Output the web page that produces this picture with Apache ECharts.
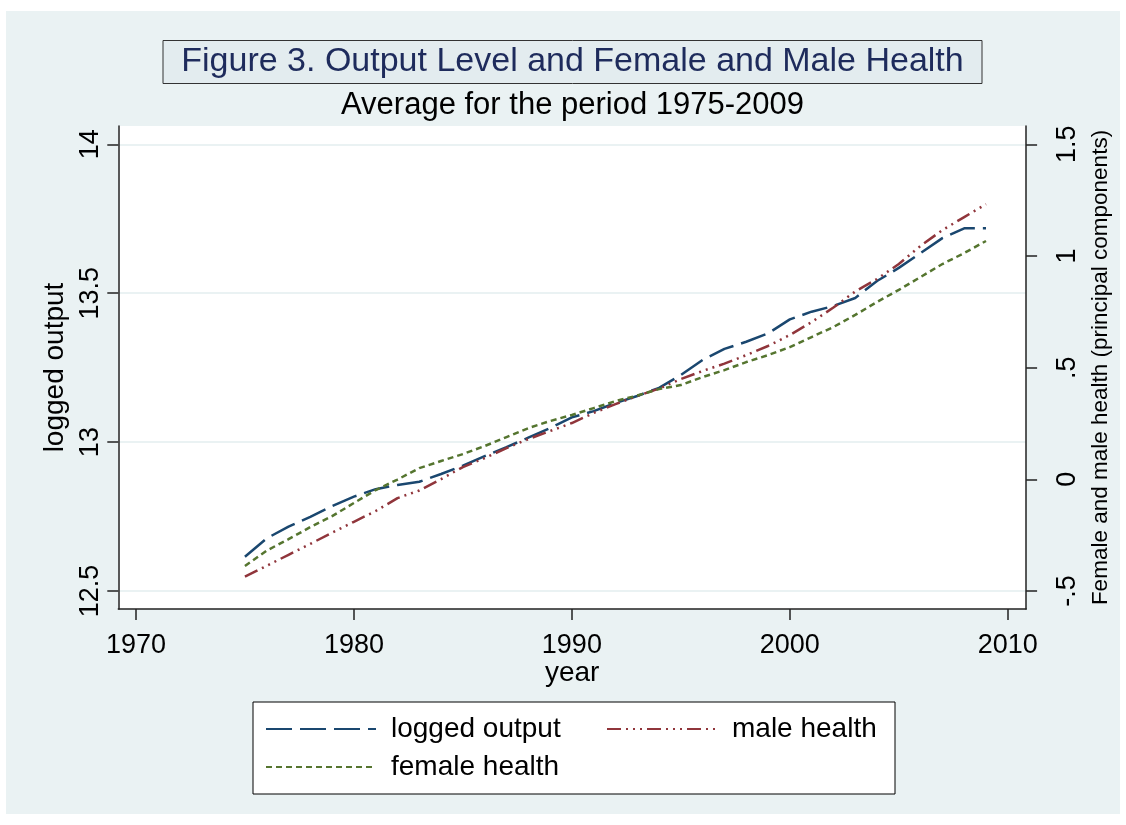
<!DOCTYPE html>
<html>
<head>
<meta charset="utf-8">
<script src="https://cdn.jsdelivr.net/npm/echarts@6/dist/echarts.min.js"></script>
<style>
html, body { margin: 0; padding: 0; background: #ffffff; width: 1126px; height: 825px; overflow: hidden; }
#chart { position: absolute; left: 6px; top: 11px; width: 1114px; height: 803px; }
</style>
</head>
<body>
<div id="chart"></div>
<script>
const years = [1975,1976,1977,1978,1979,1980,1981,1982,1983,1984,1985,1986,1987,1988,1989,1990,1991,1992,1993,1994,1995,1996,1997,1998,1999,2000,2001,2002,2003,2004,2005,2006,2007,2008,2009];
const loggedOutput = [12.615,12.677,12.716,12.749,12.785,12.817,12.842,12.856,12.867,12.893,12.921,12.953,12.983,13.015,13.047,13.083,13.104,13.131,13.155,13.182,13.225,13.276,13.313,13.337,13.365,13.412,13.438,13.457,13.484,13.541,13.585,13.635,13.685,13.718,13.718];
const maleHealth = [-0.436,-0.387,-0.338,-0.289,-0.239,-0.190,-0.142,-0.084,-0.050,0.001,0.055,0.095,0.140,0.180,0.216,0.252,0.297,0.337,0.373,0.406,0.449,0.485,0.518,0.556,0.597,0.646,0.704,0.769,0.841,0.897,0.964,1.045,1.116,1.174,1.232];
const femaleHealth = [-0.388,-0.319,-0.268,-0.214,-0.165,-0.106,-0.048,-0.001,0.050,0.082,0.113,0.149,0.189,0.229,0.261,0.288,0.319,0.350,0.375,0.404,0.422,0.458,0.489,0.525,0.556,0.592,0.637,0.682,0.736,0.794,0.848,0.906,0.964,1.013,1.067];
const xTicks = [1970,1980,1990,2000,2010];
const leftTicks = [12.5,13,13.5,14];
const rightTicks = [-0.5,0,0.5,1,1.5];
const rightTickLabels = ['-.5','0','.5','1','1.5'];

const FONT = '"Liberation Sans", Arial, sans-serif';
const AXIS_COLOR = '#222222';

function pairs(vals) { return years.map((y, i) => [y, vals[i]]); }

const chart = echarts.init(document.getElementById('chart'), null, { renderer: 'canvas' });
chart.setOption({
  animation: false,
  backgroundColor: '#EAF2F3',
  textStyle: { fontFamily: FONT },
  title: [
    {
      text: 'Figure 3. Output Level and Female and Male Health',
      left: 547.5, top: 29, textAlign: 'center',
      padding: [1, 19, 1, 19],
      backgroundColor: '#E3ECEF', borderColor: '#333333', borderWidth: 1,
      textStyle: { fontFamily: FONT, fontSize: 34, fontWeight: 'normal', color: '#1E2B5C', lineHeight: 42 }
    },
    {
      text: 'Average for the period 1975-2009',
      left: 566.5, top: 78, textAlign: 'center', padding: 0,
      textStyle: { fontFamily: FONT, fontSize: 31, fontWeight: 'normal', color: '#000000', lineHeight: 32 }
    }
  ],
  grid: {
    left: 112.3, top: 115, right: 90, bottom: 205,
    show: true, backgroundColor: '#ffffff', borderWidth: 0
  },
  legend: {
    left: 247, top: 691, width: 640,
    orient: 'horizontal',
    padding: [8, 13, 8, 12],
    itemGap: 0, itemWidth: 110, itemHeight: 14,
    itemStyle: { opacity: 0 },
    backgroundColor: '#ffffff', borderColor: '#000000', borderWidth: 1,
    textStyle: { fontFamily: FONT, fontSize: 28, color: '#000000', lineHeight: 38, height: 38, padding: [0, 0, 0, 10] },
    data: [
      { name: 'logged output', textStyle: { width: 215 } },
      { name: 'male health', textStyle: { width: 150 } },
      { name: 'female health', textStyle: { width: 215 } }
    ]
  },
  xAxis: {
    type: 'value', min: 1969.19, max: 2010.84,
    name: 'year', nameLocation: 'middle', nameGap: 50, nameMoveOverlap: false,
    nameTextStyle: { fontFamily: FONT, fontSize: 28, color: '#000' },
    axisLine: { show: true, onZero: false, lineStyle: { color: AXIS_COLOR, width: 1.5 } },
    axisTick: { show: true, length: 11, customValues: xTicks, lineStyle: { color: AXIS_COLOR, width: 1.5 } },
    axisLabel: { customValues: xTicks, margin: 23, fontFamily: FONT, fontSize: 27, color: '#000', formatter: v => String(v) },
    splitLine: { show: false }
  },
  yAxis: [
    {
      type: 'value', position: 'left', min: 12.4396, max: 14.0615,
      name: 'logged output', nameLocation: 'middle', nameRotate: 90, nameGap: 45,
      nameTextStyle: { fontFamily: FONT, fontSize: 28, color: '#000' },
      axisLine: { show: true, onZero: false, lineStyle: { color: AXIS_COLOR, width: 1.5 } },
      axisTick: { show: true, length: 11, customValues: leftTicks, lineStyle: { color: AXIS_COLOR, width: 1.5 } },
      axisLabel: { customValues: leftTicks, rotate: 90, margin: 14, fontFamily: FONT, fontSize: 27, color: '#000', formatter: v => String(v) },
      splitLine: { show: true, lineStyle: { color: '#EAF2F3', width: 2 } }
    },
    {
      type: 'value', position: 'right', min: -0.5806, max: 1.5819,
      name: 'Female and male health (principal components)', nameLocation: 'middle', nameRotate: 90, nameGap: 48,
      nameTextStyle: { fontFamily: FONT, fontSize: 22.5, color: '#000' },
      axisLine: { show: true, onZero: false, lineStyle: { color: AXIS_COLOR, width: 1.5 } },
      axisTick: { show: true, length: 11, customValues: rightTicks, lineStyle: { color: AXIS_COLOR, width: 1.5 } },
      axisLabel: {
        customValues: rightTicks, rotate: 90, margin: 28, fontFamily: FONT, fontSize: 27, color: '#000',
        formatter: v => { const i = rightTicks.findIndex(t => Math.abs(t - v) < 1e-9); return i >= 0 ? rightTickLabels[i] : ''; }
      },
      splitLine: { show: false }
    }
  ],
  series: [
    {
      name: 'logged output', type: 'line', yAxisIndex: 0, data: pairs(loggedOutput),
      symbol: 'none', color: '#1A476F',
      lineStyle: { color: '#1A476F', width: 2.5, type: [26, 8] }
    },
    {
      name: 'male health', type: 'line', yAxisIndex: 1, data: pairs(maleHealth),
      symbol: 'none', color: '#90353B',
      lineStyle: { color: '#90353B', width: 2.5, type: [14, 5, 2, 5, 2, 5, 2, 5] }
    },
    {
      name: 'female health', type: 'line', yAxisIndex: 1, data: pairs(femaleHealth),
      symbol: 'none', color: '#55752F',
      lineStyle: { color: '#55752F', width: 2.5, type: [6, 4] }
    }
  ]
});
</script>
</body>
</html>
